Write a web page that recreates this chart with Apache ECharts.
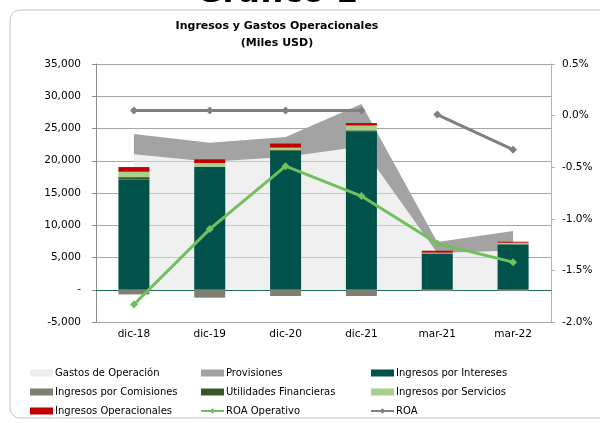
<!DOCTYPE html>
<html>
<head>
<meta charset="utf-8">
<script src="https://cdn.jsdelivr.net/npm/echarts@6/dist/echarts.min.js"></script>
<style>
  html, body { margin: 0; padding: 0; background: #fff; }
  #chart { width: 600px; height: 423px; }
</style>
</head>
<body>
<div id="chart"></div>
<script>
const categories = ['dic-18', 'dic-19', 'dic-20', 'dic-21', 'mar-21', 'mar-22'];
const gastosOperacion = [21000, 19850, 20600, 22200, 5700, 6100];
const provisiones = [3150, 2950, 3100, 6600, 1700, 3000];
const ingresosIntereses = [17100, 19080, 21550, 24500, 5590, 7040];
const ingresosComisiones = [-720, -1230, -970, -970, -200, -200];
const utilidadesFinancieras = [360, 0, 100, 200, 60, 0];
const ingresosServicios = [830, 570, 400, 780, 100, 250];
const ingresosOperacionales = [730, 570, 620, 360, 300, 150];
const roaOperativo = [-1.83, -1.10, -0.49, -0.78, -1.24, -1.42];
const roa = [0.05, 0.05, 0.05, 0.05, 0.01, -0.33];
// ROA line is broken between dic-21 and mar-21
const roaAnual = roa.map((v, i) => (i < 4 ? v : null));
const roaTrimestral = roa.map((v, i) => (i >= 4 ? v : null));

const leftTicks = [-5000, 35000, 5000];
const rightTicks = [-2, 0.5, 0.5];

const FONT = 'DejaVu Sans';
const chart = echarts.init(document.getElementById('chart'));

const fmtMiles = v => (v === 0 ? '-' : v.toLocaleString('en-US'));
const fmtPct = v => v.toFixed(1) + '%';

const legendBase = {
  orient: 'vertical',
  top: 368,
  padding: 0,
  itemGap: 9,
  itemWidth: 23,
  itemHeight: 7,
  textStyle: { fontFamily: FONT, fontSize: 10, color: '#000', padding: [0, 0, 0, -3] }
};

const bar = (name, data, color) => ({
  name,
  type: 'bar',
  stack: 'ingresos',
  barWidth: 31,
  data,
  itemStyle: { color },
  z: 3
});

const option = {
  animation: false,
  textStyle: { fontFamily: FONT },
  graphic: [
    {
      type: 'rect',
      shape: { x: 10, y: 10, width: 640, height: 408, r: 10 },
      style: { fill: 'none', stroke: '#c4c4c4', lineWidth: 1 }
    },
    {
      type: 'text', x: 277, y: 10,
      style: { text: 'Gráfico 1', font: 'bold 32px DejaVu Sans', fill: '#000', textAlign: 'center', textVerticalAlign: 'bottom' }
    },
    {
      type: 'text', x: 277, y: 26,
      style: { text: 'Ingresos y Gastos Operacionales', font: 'bold 11px DejaVu Sans', fill: '#000', textAlign: 'center', textVerticalAlign: 'middle' }
    },
    {
      type: 'text', x: 277, y: 43,
      style: { text: '(Miles USD)', font: 'bold 11px DejaVu Sans', fill: '#000', textAlign: 'center', textVerticalAlign: 'middle' }
    }
  ],
  legend: [
    Object.assign({}, legendBase, {
      left: 30,
      data: [
        { name: 'Gastos de Operación', icon: 'rect' },
        { name: 'Ingresos por Comisiones', icon: 'rect' },
        { name: 'Ingresos Operacionales', icon: 'rect' }
      ]
    }),
    Object.assign({}, legendBase, {
      left: 200,
      data: [
        { name: 'Provisiones', icon: 'rect' },
        { name: 'Utilidades Financieras', icon: 'rect' },
        { name: 'ROA Operativo' }
      ]
    }),
    Object.assign({}, legendBase, {
      left: 370,
      data: [
        { name: 'Ingresos por Intereses', icon: 'rect' },
        { name: 'Ingresos por Servicios', icon: 'rect' },
        { name: 'ROA' }
      ]
    })
  ],
  grid: { left: 96, right: 49, top: 64, bottom: 101 },
  xAxis: {
    type: 'category',
    data: categories,
    axisLine: { onZero: true, lineStyle: { color: '#1e6659', width: 1.2 } },
    axisTick: { show: false },
    axisLabel: { color: '#000', fontSize: 10.5, margin: 7 }
  },
  yAxis: [
    {
      type: 'value',
      min: leftTicks[0], max: leftTicks[1], interval: leftTicks[2],
      axisLine: { show: true, lineStyle: { color: '#8c8c8c' } },
      axisTick: { show: true, inside: false, length: 4, lineStyle: { color: '#8c8c8c' } },
      axisLabel: { color: '#000', fontSize: 10.5, margin: 15, formatter: fmtMiles },
      splitLine: { show: true, lineStyle: { color: '#a6a6a6', width: 1 } }
    },
    {
      type: 'value',
      min: rightTicks[0], max: rightTicks[1], interval: rightTicks[2],
      axisLine: { show: true, lineStyle: { color: '#b0b0b0' } },
      axisTick: { show: true, length: 4, lineStyle: { color: '#b0b0b0' } },
      axisLabel: { color: '#000', fontSize: 10.5, margin: 11, formatter: fmtPct },
      splitLine: { show: false }
    }
  ],
  series: [
    {
      name: 'Gastos de Operación',
      type: 'line',
      stack: 'gastos',
      data: gastosOperacion,
      symbol: 'none',
      lineStyle: { width: 0 },
      itemStyle: { color: '#ededed' },
      areaStyle: { color: '#e4e4e4', opacity: 0.55 },
      z: 1
    },
    {
      name: 'Provisiones',
      type: 'line',
      stack: 'gastos',
      data: provisiones,
      symbol: 'none',
      lineStyle: { width: 0 },
      itemStyle: { color: '#a3a3a3' },
      areaStyle: { color: '#a3a3a3', opacity: 1 },
      z: 1
    },
    bar('Ingresos por Intereses', ingresosIntereses, '#00524a'),
    bar('Ingresos por Comisiones', ingresosComisiones, '#7f7f72'),
    bar('Utilidades Financieras', utilidadesFinancieras, '#375623'),
    bar('Ingresos por Servicios', ingresosServicios, '#a8d08d'),
    bar('Ingresos Operacionales', ingresosOperacionales, '#c00000'),
    {
      name: 'ROA Operativo',
      type: 'line',
      yAxisIndex: 1,
      data: roaOperativo,
      symbol: 'diamond',
      symbolSize: 8,
      lineStyle: { width: 3, color: '#72bf5e' },
      itemStyle: { color: '#72bf5e' },
      z: 5
    },
    {
      name: 'ROA',
      type: 'line',
      yAxisIndex: 1,
      data: roaAnual,
      symbol: 'diamond',
      symbolSize: 8,
      lineStyle: { width: 3, color: '#808080' },
      itemStyle: { color: '#808080' },
      z: 5
    },
    {
      name: 'ROA',
      type: 'line',
      yAxisIndex: 1,
      data: roaTrimestral,
      symbol: 'diamond',
      symbolSize: 8,
      lineStyle: { width: 3, color: '#808080' },
      itemStyle: { color: '#808080' },
      z: 5
    }
  ]
};

chart.setOption(option);
</script>
</body>
</html>
